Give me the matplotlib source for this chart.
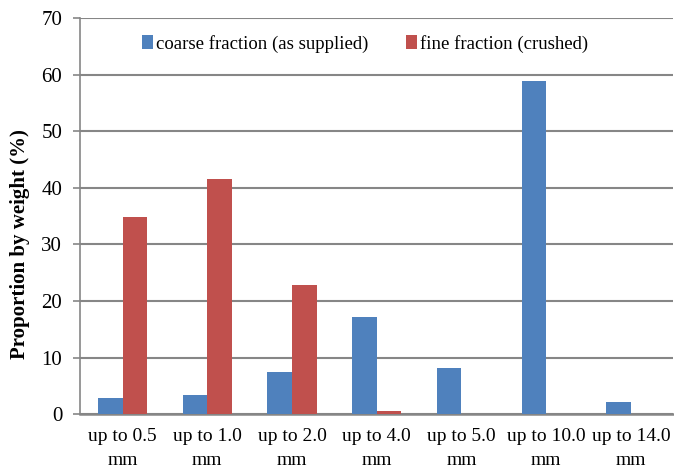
import numpy as np
import matplotlib.pyplot as plt

# Данные
categories = ['up to 0.5\nmm', 'up to 1.0\nmm', 'up to 2.0\nmm', 'up to 4.0\nmm',
              'up to 5.0\nmm', 'up to 10.0\nmm', 'up to 14.0\nmm']
coarse = [2.8, 3.4, 7.4, 17.2, 8.2, 58.9, 2.1]
fine = [34.8, 41.5, 22.9, 0.6, 0, 0, 0]

plt.rcParams['font.family'] = ['Liberation Serif', 'DejaVu Serif']

fig = plt.figure(figsize=(6.74, 4.76), dpi=100)
ax = fig.add_axes([0.119, 0.130, 0.88, 0.832])

x = np.arange(len(categories))
w = 0.29
ax.bar(x - w / 2, coarse, w, color='#4F81BD', label='coarse fraction (as supplied)', zorder=3)
ax.bar(x + w / 2, fine, w, color='#C0504D', label='fine fraction (crushed)', zorder=3)

ax.set_xlim(-0.5, len(categories) - 0.5)
ax.set_ylim(0, 70)
ax.set_yticks(np.arange(0, 71, 10))
ax.set_xticks(x)
ax.set_xticklabels(categories, fontsize=14, linespacing=1.5)
ax.tick_params(axis='y', labelsize=15, length=5, color='#868686', width=1.2, pad=8)
ax.tick_params(axis='x', length=0, pad=10)
ax.grid(axis='y', color='#868686', linewidth=1.5, zorder=0)

for s in ['top', 'right']:
    ax.spines[s].set_visible(False)
ax.spines['left'].set_color('#868686')
ax.spines['left'].set_linewidth(1.2)
ax.spines['bottom'].set_color('#868686')
ax.spines['bottom'].set_linewidth(1.8)

ax.set_ylabel('Proportion by weight (%)', fontsize=15, fontweight='bold')
ax.yaxis.set_label_coords(-0.085, 0.43)
ax.legend(loc='upper center', bbox_to_anchor=(0.48, 1.0), ncol=2, frameon=False,
          fontsize=13.5, handlelength=0.6, handleheight=0.8, handletextpad=0.15, columnspacing=2.0)

fig.savefig('out.png', dpi=100)
